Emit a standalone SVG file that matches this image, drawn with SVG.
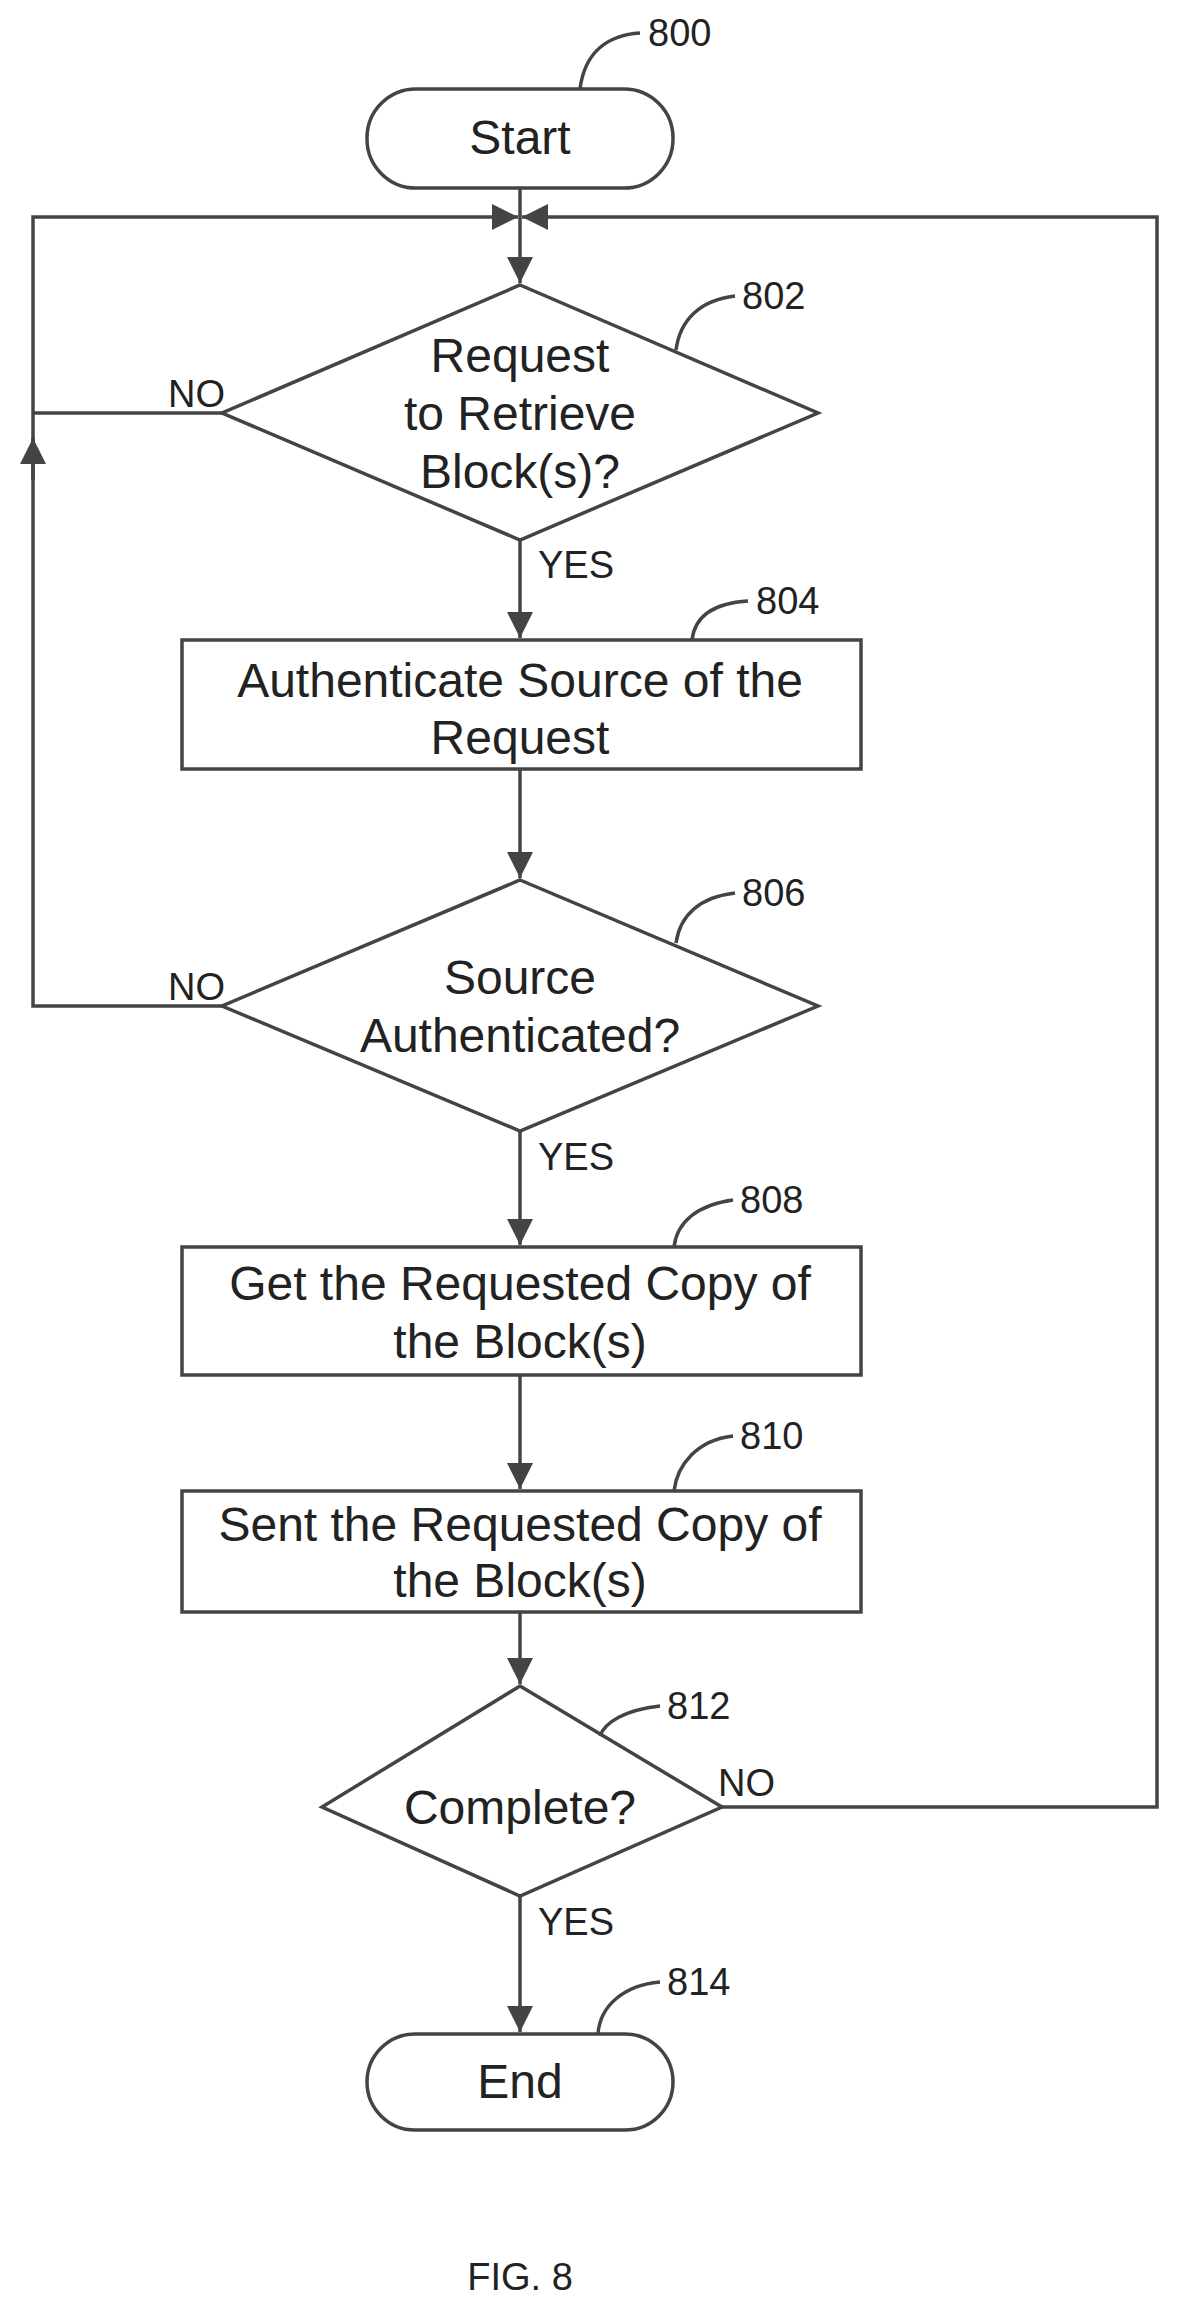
<svg xmlns="http://www.w3.org/2000/svg" width="1183" height="2317" viewBox="0 0 1183 2317">
<style>
.s{fill:#fff;stroke:#444;stroke-width:3.5}
.c{fill:none;stroke:#444;stroke-width:3.5}
.t{font-family:"Liberation Sans",Arial,sans-serif;font-size:48px;fill:#222;text-anchor:middle}
.l{font-family:"Liberation Sans",Arial,sans-serif;font-size:38px;fill:#222}
</style>
<defs>
<marker id="b" viewBox="0 0 10 10" refX="10" refY="5" markerWidth="36" markerHeight="26" markerUnits="userSpaceOnUse" orient="auto">
<path d="M0,0 L10,5 L0,10 Z" fill="#444"/>
</marker>
</defs>
<g id="connectors">
<line class="c" x1="520" y1="188" x2="520" y2="283" marker-end="url(#b)"/>
<line class="c" x1="520" y1="540" x2="520" y2="638" marker-end="url(#b)"/>
<line class="c" x1="520" y1="769" x2="520" y2="878" marker-end="url(#b)"/>
<line class="c" x1="520" y1="1131" x2="520" y2="1245" marker-end="url(#b)"/>
<line class="c" x1="520" y1="1375" x2="520" y2="1489" marker-end="url(#b)"/>
<line class="c" x1="520" y1="1612" x2="520" y2="1684" marker-end="url(#b)"/>
<line class="c" x1="520" y1="1896" x2="520" y2="2032" marker-end="url(#b)"/>
<polyline class="c" points="222,1006 33,1006 33,217 518,217" marker-end="url(#b)"/>
<line class="c" x1="222" y1="413" x2="33" y2="413"/>
<line class="c" x1="33" y1="480" x2="33" y2="438" marker-end="url(#b)"/>
<polyline class="c" points="722,1807 1157,1807 1157,217 522,217" marker-end="url(#b)"/>
<text class="l" x="168" y="407">NO</text>
<text class="l" x="168" y="1000">NO</text>
<text class="l" x="538" y="578">YES</text>
<text class="l" x="538" y="1170">YES</text>
<text class="l" x="538" y="1935">YES</text>
<text class="l" x="718" y="1796">NO</text>
</g>
<g id="n800">
<rect class="s" x="367" y="89" width="306" height="99" rx="49"/>
<text class="t" x="520" y="154">Start</text>
<path class="c" d="M580,89 C585,50 610,35 640,33"/>
<text class="l" x="648" y="46">800</text>
</g>
<g id="n802">
<polygon class="s" points="520,285 818,413 520,540 222,413"/>
<text class="t" x="520" y="372">Request</text>
<text class="t" x="520" y="430">to Retrieve</text>
<text class="t" x="520" y="488">Block(s)?</text>
<path class="c" d="M676,350 C680,320 700,300 735,296"/>
<text class="l" x="742" y="309">802</text>
</g>
<g id="n804">
<rect class="s" x="182" y="640" width="679" height="129"/>
<text class="t" x="520" y="697">Authenticate Source of the</text>
<text class="t" x="520" y="754">Request</text>
<path class="c" d="M692,640 C695,615 715,603 748,601"/>
<text class="l" x="756" y="614">804</text>
</g>
<g id="n806">
<polygon class="s" points="520,880 818,1006 520,1131 222,1006"/>
<text class="t" x="520" y="994">Source</text>
<text class="t" x="520" y="1052">Authenticated?</text>
<path class="c" d="M676,943 C680,915 700,897 735,893"/>
<text class="l" x="742" y="906">806</text>
</g>
<g id="n808">
<rect class="s" x="182" y="1247" width="679" height="128"/>
<text class="t" x="520" y="1300">Get the Requested Copy of</text>
<text class="t" x="520" y="1358">the Block(s)</text>
<path class="c" d="M674,1247 C677,1222 697,1205 733,1200"/>
<text class="l" x="740" y="1213">808</text>
</g>
<g id="n810">
<rect class="s" x="182" y="1491" width="679" height="121"/>
<text class="t" x="520" y="1541">Sent the Requested Copy of</text>
<text class="t" x="520" y="1597">the Block(s)</text>
<path class="c" d="M674,1491 C677,1465 697,1440 733,1436"/>
<text class="l" x="740" y="1449">810</text>
</g>
<g id="n812">
<polygon class="s" points="520,1686 722,1807 520,1896 322,1807"/>
<text class="t" x="520" y="1824">Complete?</text>
<path class="c" d="M600,1736 C605,1722 625,1710 660,1706"/>
<text class="l" x="667" y="1719">812</text>
</g>
<g id="n814">
<rect class="s" x="367" y="2034" width="306" height="96" rx="48"/>
<text class="t" x="520" y="2098">End</text>
<path class="c" d="M598,2034 C600,2005 625,1985 660,1982"/>
<text class="l" x="667" y="1995">814</text>
</g>
<text class="l" x="520" y="2290" text-anchor="middle" font-size="38">FIG. 8</text>
</svg>
